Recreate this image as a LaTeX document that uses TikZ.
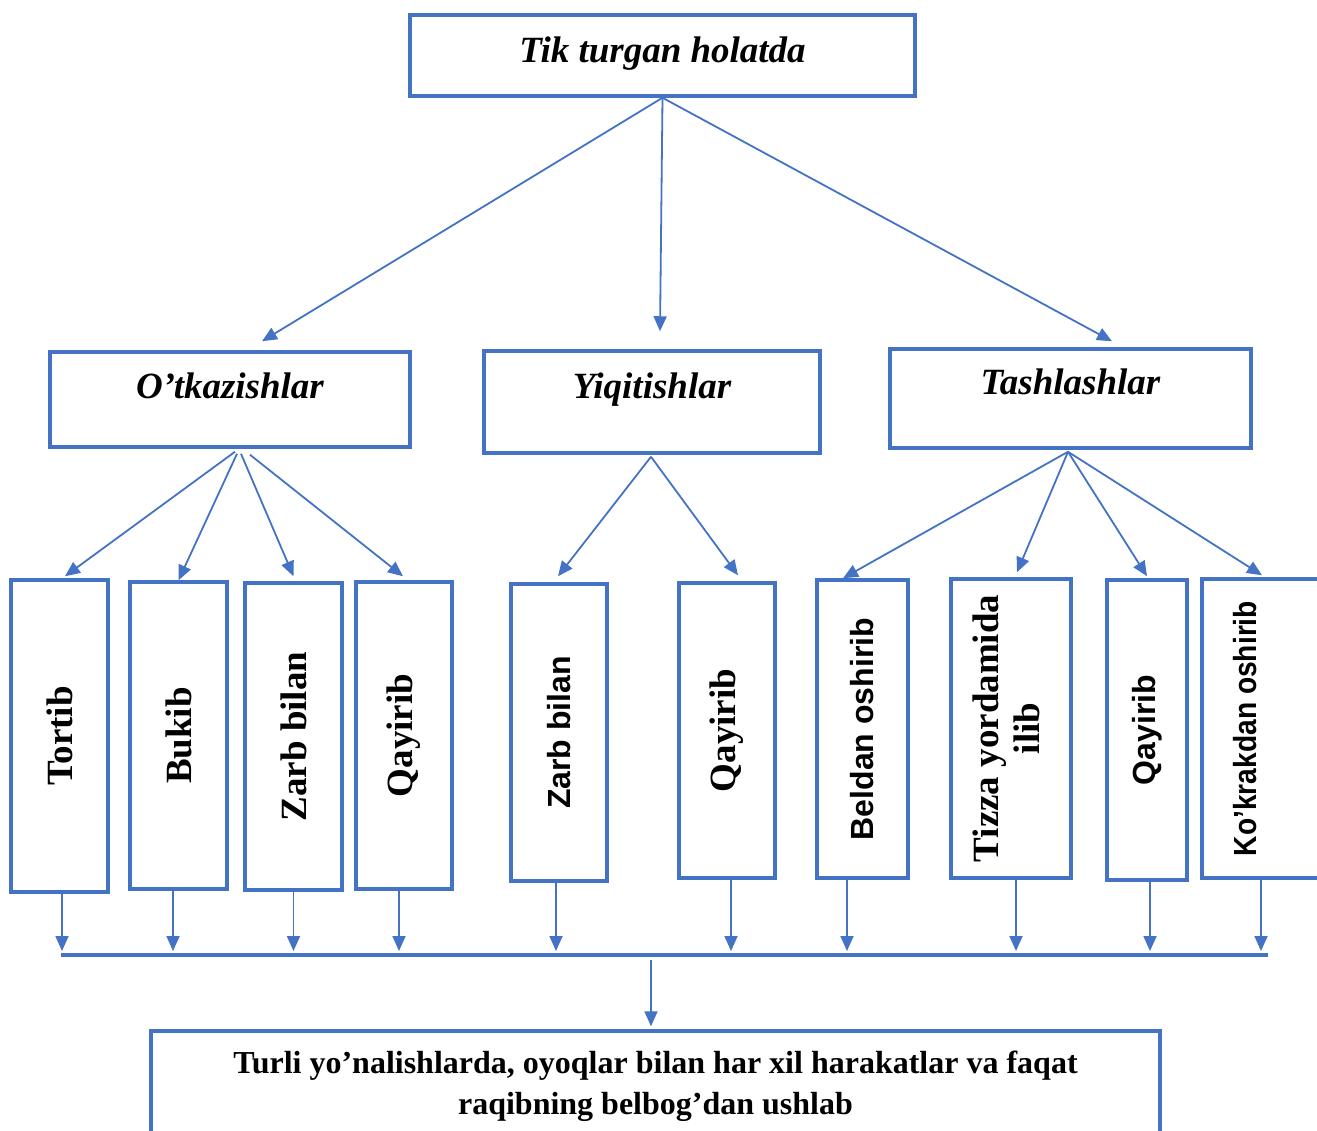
\documentclass[tikz,border=0pt]{standalone}
\usepackage{fontspec}
\setmainfont{Liberation Serif}
\setsansfont{Liberation Sans}
\usetikzlibrary{arrows.meta}
\definecolor{boxblue}{RGB}{68,114,196}

\begin{document}
\begin{tikzpicture}%
  [x=1pt, y=-1pt,
   >={Triangle[length=15pt,width=13pt]},
   every node/.style={inner sep=0pt},
   box/.style={draw=boxblue, line width=3.5pt, fill=white},
   head/.style={box, font=\fontsize{37}{40}\selectfont\bfseries\itshape},
   vert/.style={box, font=\fontsize{37}{41}\selectfont\bfseries},
   vertsf/.style={box, font=\fontsize{32}{36}\selectfont\sffamily\bfseries},
   link/.style={->, boxblue, line width=1.8pt}
  ]
\useasboundingbox (0,0) rectangle (1317,1130);

% top and middle row
\node[head, minimum width=505pt, text height=47pt, text depth=34pt] (top)  at (662.5,55.5)  {Tik turgan holatda};
\node[head, minimum width=360pt, text height=46pt, text depth=49pt] (otk)  at (230,399.5)   {O’tkazishlar};
\node[head, minimum width=336pt, text height=47pt, text depth=55pt] (yiq)  at (652,402)     {Yiqitishlar};
\node[head, minimum width=361pt, text height=45pt, text depth=54pt] (tash) at (1070.5,398.5) {Tashlashlar};

% lower row
\node[vert,   minimum width=97pt,  minimum height=312pt] (tortib) at (59.5,736)    {\rotatebox{90}{Tortib}};
\node[vert,   minimum width=97pt,  minimum height=307pt] (bukib)  at (178.5,735.5) {\rotatebox{90}{Bukib}};
\node[vert,   minimum width=97pt,  minimum height=307pt] (zarbA)  at (293.5,736.5) {\rotatebox{90}{Zarb bilan}};
\node[vert,   minimum width=96pt,  minimum height=307pt] (qayA)   at (404,735.5)   {\rotatebox{90}{Qayirib}};
\node[vertsf, minimum width=96pt,  minimum height=297pt] (zarbB)  at (559,732.5)   {\rotatebox{90}{Zarb bilan}};
\node[vert,   minimum width=96pt,  minimum height=295pt] (qayB)   at (727,730.5)   {\rotatebox{90}{Qayirib}};
\node[vertsf, minimum width=91pt,  minimum height=298pt] (beldan) at (862.5,729)   {\rotatebox{90}{Beldan oshirib}};
\node[vert,   minimum width=120pt, minimum height=299pt] (tizza)  at (1011,728.5)  {\rotatebox{90}{\begin{tabular}{@{}c@{}}Tizza yordamida\\ilib\end{tabular}}};
\node[vertsf, minimum width=80pt,  minimum height=300pt] (qayC)   at (1147,730)    {\rotatebox{90}{Qayirib}};
\node[vertsf, minimum width=133pt, minimum height=299pt] (kokrak) at (1268.5,728.5) {\rotatebox{90}{\scalebox{0.88}[1]{Ko’krakdan oshirib}}\hspace*{47pt}};

% result
\node[box, minimum width=1009pt, minimum height=110pt, align=center,
      font=\fontsize{32}{41}\selectfont\bfseries] (fin) at (655.5,1086)
  {Turli yo’nalishlarda, oyoqlar bilan har xil harakatlar va faqat\\raqibning belbog’dan ushlab};

\coordinate (busL) at (61,955);
\coordinate (busR) at (1268,955);
\coordinate (busM) at (651,960);
\draw[boxblue, line width=3.5pt] (busL) -- (busR);

\path[link]
%  FROM                                  TO
   (top.south) edge ([xshift=32pt,yshift=9pt]otk.north)
               edge ([xshift=8pt,yshift=18pt]yiq.north)
               edge ([xshift=41.5pt,yshift=6pt]tash.north)
   ([xshift=5pt,yshift=-3pt]otk.south)   edge ([xshift=5.5pt,yshift=2pt]tortib.north)
   ([xshift=7pt,yshift=-5pt]otk.south)   edge (bukib.north)
   ([xshift=11pt,yshift=-5pt]otk.south)  edge ([yshift=5pt]zarbA.north)
   ([xshift=20pt,yshift=-6pt]otk.south)  edge ([xshift=-1pt,yshift=4pt]qayA.north)
   ([xshift=-1pt,yshift=-2pt]yiq.south)  edge ([xshift=-1pt,yshift=6pt]zarbB.north)
                                         edge ([xshift=11pt,yshift=6pt]qayB.north)
   ([xshift=-2.5pt,yshift=-2pt]tash.south) edge ([xshift=-19.5pt]beldan.north)
                                         edge ([xshift=6pt,yshift=5pt]tizza.north)
                                         edge ([yshift=2pt]qayC.north)
                                         edge ([xshift=-6.5pt,yshift=2pt]kokrak.north)
   ;

% down to the bus
\path[link, shorten >=4pt]
   ([xshift=2.5pt]tortib.south)  edge ([xshift=2.5pt]tortib.south |- busL)
   ([xshift=-5.5pt]bukib.south)  edge ([xshift=-5.5pt]bukib.south |- busL)
   (zarbA.south)                 edge (zarbA.south |- busL)
   ([xshift=-5pt]qayA.south)     edge ([xshift=-5pt]qayA.south |- busL)
   ([xshift=-3pt]zarbB.south)    edge ([xshift=-3pt]zarbB.south |- busL)
   ([xshift=4pt]qayB.south)      edge ([xshift=4pt]qayB.south |- busL)
   ([xshift=-15.5pt]beldan.south) edge ([xshift=-15.5pt]beldan.south |- busL)
   ([xshift=5pt]tizza.south)     edge ([xshift=5pt]tizza.south |- busL)
   ([xshift=3pt]qayC.south)      edge ([xshift=3pt]qayC.south |- busL)
   ([xshift=-7.5pt]kokrak.south) edge ([xshift=-7.5pt]kokrak.south |- busL)
   ;
\path[link] (busM) edge ([xshift=-4.5pt,yshift=3pt]fin.north);
\end{tikzpicture}
\end{document}
